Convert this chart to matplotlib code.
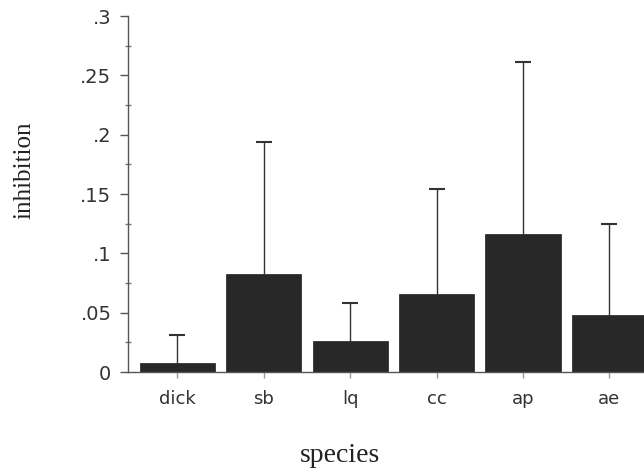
import matplotlib
matplotlib.use("Agg")
import matplotlib.pyplot as plt
from matplotlib.ticker import MultipleLocator, FuncFormatter

species = ["dick", "sb", "lq", "cc", "ap", "ae"]
inhibition = [0.008, 0.083, 0.026, 0.066, 0.116, 0.048]
err_upper = [0.023, 0.111, 0.032, 0.088, 0.145, 0.077]

fig = plt.figure(figsize=(6.44, 4.74), dpi=100)
ax = fig.add_axes([0.199, 0.215, 0.805, 0.751])

x = list(range(len(species)))
ax.bar(x, inhibition, width=0.87, color="#282828", edgecolor="#202020", linewidth=0.5, zorder=2)
eb = ax.errorbar(x, inhibition, yerr=[[0]*len(x), err_upper], fmt="none", ecolor="#333333",
                 elinewidth=1.0, capsize=6, capthick=1.5, zorder=1)
caplines = eb[1]
if len(caplines) == 2:
    caplines[0].set_visible(False)

ax.set_xlim(-0.57, 5.43)
ax.set_ylim(0, 0.3)
ax.set_xticks(x)
ax.set_xticklabels(species)
ax.yaxis.set_major_locator(MultipleLocator(0.05))
ax.yaxis.set_minor_locator(MultipleLocator(0.025))

def fmt(v, pos):
    if abs(v) < 1e-9:
        return "0"
    s = ("%.2f" % v).rstrip("0")
    return s[1:] if s.startswith("0") else s
ax.yaxis.set_major_formatter(FuncFormatter(fmt))

for s in ["top", "right"]:
    ax.spines[s].set_visible(False)
for s in ["left", "bottom"]:
    ax.spines[s].set_color("#555555")
    ax.spines[s].set_linewidth(1.0)

ax.tick_params(axis="y", which="major", direction="out", length=6, width=1, color="#555555",
               labelsize=14, labelcolor="#333333", pad=6)
ax.tick_params(axis="y", which="minor", direction="inout", length=4, width=1, color="#777777")
ax.tick_params(axis="x", which="major", direction="out", length=4, width=1, color="#999999",
               labelsize=13, labelcolor="#333333", pad=9)
for lab in ax.get_xticklabels() + ax.get_yticklabels():
    lab.set_family("DejaVu Sans")

ax.set_xlabel("species", family="Liberation Serif", fontsize=20, color="#222222")
ax.set_ylabel("inhibition", family="Liberation Serif", fontsize=18, color="#222222")
ax.xaxis.set_label_coords((339 - 128) / (644 - 128), -(455 - 372) / 356, transform=ax.transAxes)
ax.yaxis.set_label_coords(-(128 - 25) / (644 - 128), (372 - 170) / 356, transform=ax.transAxes)
ax.xaxis.label.set_va("center")
ax.yaxis.label.set_va("center")

fig.savefig("out.png", dpi=100)
